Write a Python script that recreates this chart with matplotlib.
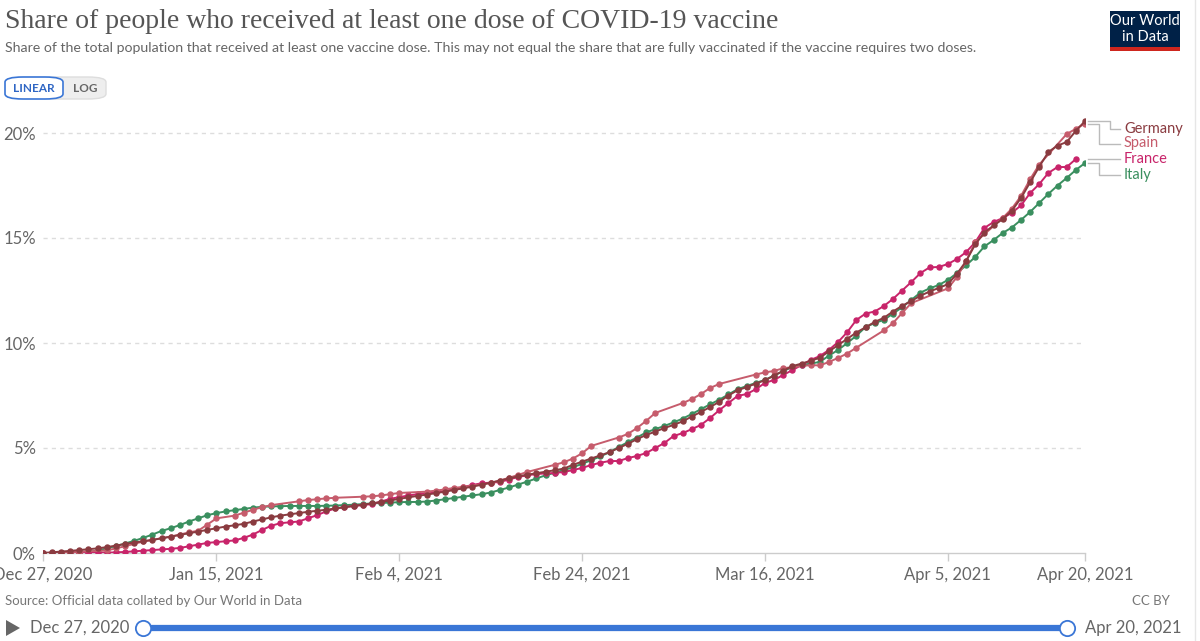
import pandas as pd
import matplotlib
matplotlib.use("Agg")
import matplotlib.pyplot as plt
import matplotlib.dates as mdates
from matplotlib.patches import Rectangle, FancyBboxPatch, Polygon

plt.rcParams["font.family"] = ["Lato", "DejaVu Sans"]

# ---- data (share of population with at least one dose, %) ----
start = pd.Timestamp("2020-12-27")
dates = pd.date_range(start, "2021-04-20")

germany = [0.00, 0.03, 0.07, 0.10, 0.14, 0.18, 0.22, 0.28, 0.35, 0.43,
           0.50, 0.56, 0.62, 0.70, 0.78, 0.86, 0.94, 1.02, 1.10, 1.18,
           1.26, 1.32, 1.39, 1.50, 1.60, 1.70, 1.78, 1.84, 1.90, 1.96,
           2.01, 2.06, 2.12, 2.18, 2.24, 2.30, 2.36, 2.43, 2.50, 2.58,
           2.65, 2.72, 2.78, 2.85, 2.92, 3.00, 3.08, 3.16, 3.25, 3.35,
           3.45, 3.55, 3.65, 3.73, 3.80, 3.87, 3.94, 4.02, 4.20, 4.35,
           4.50, 4.65, 4.80, 5.00, 5.20, 5.42, 5.62, 5.78, 5.95, 6.10,
           6.27, 6.50, 6.72, 6.95, 7.20, 7.50, 7.75, 7.90, 8.07, 8.23,
           8.45, 8.68, 8.90, 9.02, 9.15, 9.30, 9.60, 9.90, 10.20, 10.50,
           10.75, 11.00, 11.20, 11.50, 11.77, 12.00, 12.25, 12.45, 12.62, 12.80,
           13.30, 13.90, 14.70, 15.26, 15.60, 15.90, 16.30, 16.90, 17.65, 18.40,
           19.10, 19.40, 19.57, 20.10, 20.57]

italy = [0.00, 0.00, 0.01, 0.02, 0.03, 0.05, 0.12, 0.22, 0.33, 0.45,
         0.58, 0.72, 0.88, 1.05, 1.18, 1.33, 1.50, 1.65, 1.80, 1.90,
         1.98, 2.04, 2.10, 2.16, 2.20, 2.22, 2.23, 2.24, 2.24, 2.24,
         2.24, 2.25, 2.26, 2.28, 2.30, 2.33, 2.36, 2.38, 2.40, 2.42,
         2.43, 2.43, 2.45, 2.50, 2.56, 2.62, 2.68, 2.74, 2.80, 2.88,
         3.00, 3.12, 3.26, 3.40, 3.55, 3.70, 3.82, 3.95, 4.08, 4.25,
         4.42, 4.60, 4.80, 5.05, 5.28, 5.50, 5.74, 5.90, 6.05, 6.22,
         6.40, 6.62, 6.85, 7.08, 7.30, 7.55, 7.80, 7.95, 8.10, 8.24,
         8.45, 8.66, 8.86, 8.95, 9.02, 9.10, 9.40, 9.67, 10.00, 10.35,
         10.76, 10.95, 11.10, 11.40, 11.70, 12.05, 12.40, 12.60, 12.76, 13.00,
         13.33, 13.70, 14.10, 14.60, 14.90, 15.24, 15.50, 15.86, 16.24, 16.67,
         17.10, 17.50, 17.86, 18.24, 18.57]

# France stops one day earlier (Apr 19)
france = [0.00, 0.00, 0.00, 0.00, 0.01, 0.01, 0.02, 0.02, 0.03, 0.05,
          0.08, 0.11, 0.14, 0.17, 0.20, 0.24, 0.32, 0.40, 0.48, 0.52,
          0.56, 0.60, 0.72, 0.88, 1.10, 1.30, 1.42, 1.46, 1.50, 1.65,
          1.80, 1.98, 2.12, 2.18, 2.24, 2.28, 2.33, 2.45, 2.58, 2.66,
          2.74, 2.80, 2.86, 2.90, 2.95, 3.04, 3.14, 3.24, 3.32, 3.35,
          3.38, 3.50, 3.62, 3.70, 3.76, 3.79, 3.81, 3.86, 3.95, 4.05,
          4.19, 4.30, 4.38, 4.38, 4.52, 4.62, 4.76, 5.00, 5.24, 5.57,
          5.71, 5.90, 6.10, 6.43, 6.80, 7.14, 7.48, 7.57, 7.80, 8.10,
          8.24, 8.48, 8.71, 8.95, 9.19, 9.38, 9.67, 10.05, 10.52, 11.10,
          11.40, 11.50, 11.76, 12.10, 12.50, 12.90, 13.33, 13.60, 13.62, 13.76,
          14.00, 14.33, 14.80, 15.48, 15.76, 15.95, 16.20, 16.55, 17.14, 17.57,
          18.10, 18.38, 18.38, 18.76]

# Spain only reports on some days (days since Dec 27, 2020)
spain_days = [0, 1, 2, 3, 4, 7, 8, 9, 11, 14, 15, 16, 17, 18, 19,
              21, 22, 23, 24, 25, 28, 29, 30, 31, 32, 35, 36, 37, 38, 39,
              42, 43, 44, 45, 46, 49, 50, 51, 52, 53, 56, 57, 58, 59, 60,
              63, 64, 65, 66, 67, 70, 71, 72, 73, 74, 78, 79, 80, 81,
              84, 85, 86, 87, 88, 89, 92, 93, 94, 95, 99, 100, 101, 102,
              105, 106, 107, 108, 109, 112, 113, 114]
spain = [0.00, 0.01, 0.02, 0.04, 0.06, 0.12, 0.22, 0.32, 0.55, 0.78, 0.88, 0.98, 1.06, 1.35, 1.65,
         1.78, 1.92, 2.06, 2.18, 2.28, 2.46, 2.52, 2.56, 2.60, 2.63, 2.68, 2.70, 2.74, 2.80, 2.86,
         2.92, 2.97, 3.03, 3.10, 3.15, 3.33, 3.45, 3.58, 3.72, 3.86, 4.20, 4.32, 4.50, 4.75, 5.10,
         5.50, 5.67, 5.95, 6.29, 6.67, 7.14, 7.33, 7.57, 7.86, 8.05, 8.50, 8.60, 8.67, 8.80,
         8.95, 8.93, 9.10, 9.29, 9.50, 9.78, 10.60, 10.95, 11.43, 11.90, 12.60, 13.14, 13.90, 14.80,
         15.95, 16.40, 17.00, 17.80, 18.50, 19.95, 20.20, 20.45]
spain_dates = [start + pd.Timedelta(days=d) for d in spain_days]

tick_dates = pd.to_datetime(["2020-12-27", "2021-01-15", "2021-02-04", "2021-02-24",
                             "2021-03-16", "2021-04-05", "2021-04-20"])
y_ticks = [0, 5, 10, 15, 20]

c_germany = "#8a3b40"
c_spain = "#c65c6c"
c_france = "#c8246a"
c_italy = "#3a8f5f"

W, H = 1200, 641


def fx(x):
    return x / W


def fy(y):
    return 1 - y / H


fig = plt.figure(figsize=(12, 6.41), dpi=100)
fig.patch.set_facecolor("white")

ax = fig.add_axes([fx(42.7), fy(553), fx(1085 - 42.7), (553 - 101.5) / H])
ax.set_facecolor("none")

lw, ms = 1.4, 3.6
ax.plot(dates, italy, color=c_italy, lw=lw, marker="o", ms=ms, zorder=3)
ax.plot(dates[:len(france)], france, color=c_france, lw=lw, marker="o", ms=ms, zorder=4)
ax.plot(spain_dates, spain, color=c_spain, lw=lw, marker="o", ms=ms, zorder=5)
ax.plot(dates, germany, color=c_germany, lw=lw, marker="o", ms=ms, zorder=6)

ax.set_xlim(dates[0], dates[-1])
ax.set_ylim(0, 21.5)

for s in ["top", "right", "left"]:
    ax.spines[s].set_visible(False)
ax.spines["bottom"].set_color("#cccccc")
ax.spines["bottom"].set_linewidth(1)

ax.set_xticks(tick_dates)
ax.set_xticklabels([d.strftime("%b ") + str(d.day) + d.strftime(", %Y") for d in tick_dates])
ax.tick_params(axis="x", colors="#cccccc", length=6, width=1, labelsize=12, labelcolor="#666666", pad=4)

ax.set_yticks(y_ticks)
ax.set_yticklabels([f"{v}%" for v in y_ticks])
ax.tick_params(axis="y", length=0, labelsize=12, labelcolor="#666666", pad=5)
for v in y_ticks[1:]:
    ax.axhline(v, color="#dddddd", lw=1, ls=(0, (3, 3)), zorder=1)

# line labels with elbow connectors
end_num = mdates.date2num(dates[-1])
px_day = (1085 - 42.7) / (len(dates) - 1)
labels = [("Germany", germany[-1], 20.2, 1110, c_germany),
          ("Spain", spain[-1], 19.5, 1099, c_spain),
          ("France", france[-1], 18.75, 1110, c_france),
          ("Italy", italy[-1], 18.0, 1099, c_italy)]
for name, yend, ylab, xel, col in labels:
    x0 = end_num + 3 / px_day
    xe = end_num + (xel - 1085) / px_day
    x1 = end_num + (1120 - 1085) / px_day
    ax.plot([x0, xe, xe, x1], [yend, yend, ylab, ylab], color="#bbbbbb", lw=1, clip_on=False)
    ax.text(end_num + (1124 - 1085) / px_day, ylab, name, color=col, fontsize=10.5,
            va="center", ha="left", clip_on=False)

# header
fig.text(fx(5), fy(22), "Share of people who received at least one dose of COVID-19 vaccine",
         family=["Liberation Serif", "DejaVu Serif"], fontsize=20, color="#555555", va="center")
fig.text(fx(5), fy(48), "Share of the total population that received at least one vaccine dose. "
         "This may not equal the share that are fully vaccinated if the vaccine requires two doses.",
         fontsize=10.15, color="#666666", va="center")

# linear / log toggle
fig.patches.append(FancyBboxPatch((fx(40), fy(99)), fx(66), (99 - 77) / H,
                                  boxstyle="round,pad=0,rounding_size=0.015",
                                  transform=fig.transFigure, facecolor="#eeeeee",
                                  edgecolor="#dddddd", lw=1, mutation_aspect=H / W))
fig.patches.append(FancyBboxPatch((fx(5), fy(99)), fx(58), (99 - 77) / H,
                                  boxstyle="round,pad=0,rounding_size=0.015",
                                  transform=fig.transFigure, facecolor="white",
                                  edgecolor="#3a76d6", lw=1.2, mutation_aspect=H / W))
fig.text(fx(34), fy(88), "LINEAR", fontsize=8.5, color="#2f66c4", fontweight="bold",
         ha="center", va="center")
fig.text(fx(85), fy(88), "LOG", fontsize=8.5, color="#666666", fontweight="bold",
         ha="center", va="center")

# logo
fig.patches.append(Rectangle((fx(1110), fy(47)), fx(70), 36 / H, transform=fig.transFigure,
                             facecolor="#002147", edgecolor="none"))
fig.patches.append(Rectangle((fx(1110), fy(51)), fx(70), 4 / H, transform=fig.transFigure,
                             facecolor="#ce261e", edgecolor="none"))
fig.text(fx(1145), fy(21), "Our World", fontsize=10.5, color="white", ha="center", va="center")
fig.text(fx(1145), fy(37), "in Data", fontsize=10.5, color="white", ha="center", va="center")

# footer
fig.text(fx(5), fy(601), "Source: Official data collated by Our World in Data",
         fontsize=9.5, color="#777777", va="center")
fig.text(fx(1170), fy(601), "CC BY", fontsize=9.5, color="#777777", va="center", ha="right")

# timeline slider
fig.patches.append(Polygon([(fx(6), fy(620)), (fx(6), fy(636)), (fx(20), fy(628))],
                           closed=True, transform=fig.transFigure, facecolor="#666666",
                           edgecolor="none"))
fig.text(fx(30), fy(628), "Dec 27, 2020", fontsize=12, color="#666666", va="center")
fig.text(fx(1085), fy(628), "Apr 20, 2021", fontsize=12, color="#666666", va="center")
fig.lines.append(plt.Line2D([fx(143), fx(1067)], [fy(628), fy(628)], transform=fig.transFigure,
                            color="#3a76d6", lw=4.5, solid_capstyle="butt"))
fig.lines.append(plt.Line2D([fx(143), fx(1067)], [fy(628), fy(628)], transform=fig.transFigure,
                            color="#3a76d6", lw=0, marker="o", ms=11, markerfacecolor="white",
                            markeredgecolor="#3a76d6", markeredgewidth=1.3))

# page border on the right
fig.lines.append(plt.Line2D([fx(1195), fx(1195)], [0, 1], transform=fig.transFigure,
                            color="#e6e6e6", lw=1))

fig.savefig("out.png", dpi=100)
